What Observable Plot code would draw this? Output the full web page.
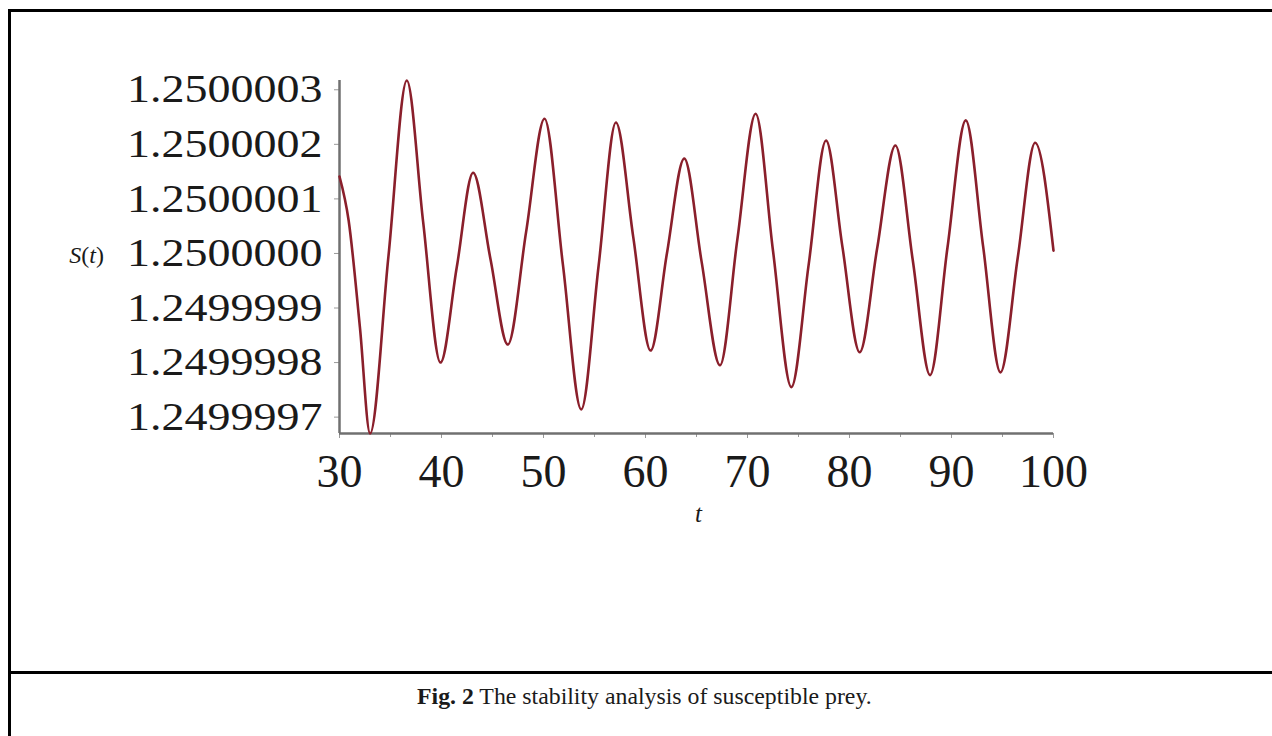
<!DOCTYPE html>
<html>
<head>
<meta charset="utf-8">
<script src="https://cdn.jsdelivr.net/npm/d3@7"></script>
<script src="https://cdn.jsdelivr.net/npm/@observablehq/plot@0.6"></script>
<style>
  html, body { margin: 0; padding: 0; background: #fff; }
  #page { position: relative; width: 1272px; height: 736px; overflow: hidden; font-family: "Liberation Serif", "DejaVu Serif", serif; color: #1a1a1a; }
  #chart { position: absolute; left: 0; top: 0; }
  .hl { position: absolute; background: #000; }
  .lbl { position: absolute; white-space: nowrap; line-height: 1; }
</style>
</head>
<body>
<div id="page">
  <div id="chart"></div>
  <div class="hl" style="left:8px; top:9px; width:3px; height:727px;"></div>
  <div class="hl" style="left:8px; top:9px; width:1264px; height:3px;"></div>
  <div class="hl" style="left:8px; top:671px; width:1264px; height:3px;"></div>
  <div class="lbl" id="ylab" style="right:1168px; top:243px; font-size:24px;"><i>S</i>(<i>t</i>)</div>
  <div class="lbl" id="xlab" style="left:695px; top:501px; font-size:25px;"><i>t</i></div>
  <div class="lbl" id="caption" style="left:417px; top:685px; font-size:23.8px;"><b>Fig. 2</b> The stability analysis of susceptible prey.</div>
</div>
<script>
// time points
const tValues = [30, 30.9, 32.0, 33.0, 34.8, 36.6, 38.2, 39.9, 41.5, 43.1,
  44.8, 46.5, 48.3, 50.1, 51.9, 53.7, 55.4, 57.1, 58.8, 60.5,
  62.1, 63.8, 65.5, 67.3, 69.0, 70.8, 72.5, 74.3, 76.0, 77.7,
  79.3, 81.0, 82.7, 84.5, 86.2, 87.9, 89.6, 91.4, 93.1, 94.8,
  96.5, 98.2, 100];
// S(t) values
const sValues = [1.250000141, 1.250000060, 1.249999865, 1.249999670, 1.249999995, 1.250000317, 1.250000058, 1.249999800, 1.249999975, 1.250000148,
  1.249999990, 1.249999833, 1.250000040, 1.250000247, 1.249999980, 1.249999714, 1.249999977, 1.250000240, 1.250000030, 1.249999822,
  1.250000000, 1.250000174, 1.249999985, 1.249999795, 1.250000025, 1.250000256, 1.250000005, 1.249999755, 1.249999980, 1.250000207,
  1.250000013, 1.249999819, 1.250000008, 1.250000198, 1.249999988, 1.249999777, 1.250000010, 1.250000244, 1.250000013, 1.249999782,
  1.249999993, 1.250000203, 1.250000005];
const xTicks = [30, 40, 50, 60, 70, 80, 90, 100];
const xMinorTicks = [35, 45, 55, 65, 75, 85, 95];
const yTicks = [1.2499997, 1.2499998, 1.2499999, 1.2500000, 1.2500001, 1.2500002, 1.2500003];

const data = tValues.map((t, i) => ({t, s: sValues[i]}));
const yDomain = d3.extent(sValues);
const xDomain = [30, 100];

const plot = Plot.plot({
  width: 1272,
  height: 673,
  marginTop: 80,
  marginBottom: 240,
  marginLeft: 339,
  marginRight: 219,
  style: {fontFamily: "Liberation Serif", color: "#1a1a1a", background: "transparent", overflow: "visible"},
  x: {domain: xDomain},
  y: {domain: yDomain},
  marks: [
    Plot.axisX(xMinorTicks, {label: null, tickSize: 4, tickFormat: () => "", stroke: "#999", strokeWidth: 1}),
    Plot.axisX(xTicks, {label: null, tickSize: 5, tickPadding: 16, fontSize: 46, fontFamily: "Liberation Serif", stroke: "#999", strokeWidth: 1, tickFormat: d3.format("d"), fill: "#1a1a1a"}),
    Plot.axisY(yTicks, {label: null, tickSize: 5, tickPadding: 12, fontSize: 46, fontFamily: "Liberation Serif", stroke: "#999", strokeWidth: 1, tickFormat: d3.format(".7f"), fill: "#1a1a1a"}),
    Plot.ruleX([xDomain[0]], {stroke: "#707070", strokeWidth: 2.5}),
    Plot.ruleY([yDomain[0]], {stroke: "#707070", strokeWidth: 2.5}),
    Plot.line(data, {x: "t", y: "s", curve: "monotone-x", stroke: "#8a1f2b", strokeWidth: 2.6})
  ]
});
document.getElementById("chart").appendChild(plot);

// compress y tick labels vertically, as in the reference
d3.select(plot).selectAll('g[aria-label="y-axis tick label"] text').each(function() {
  const tr = this.getAttribute("transform");
  if (tr && tr.includes("translate")) {
    this.setAttribute("transform", tr + " scale(1,0.86)");
  }
});
</script>
</body>
</html>
